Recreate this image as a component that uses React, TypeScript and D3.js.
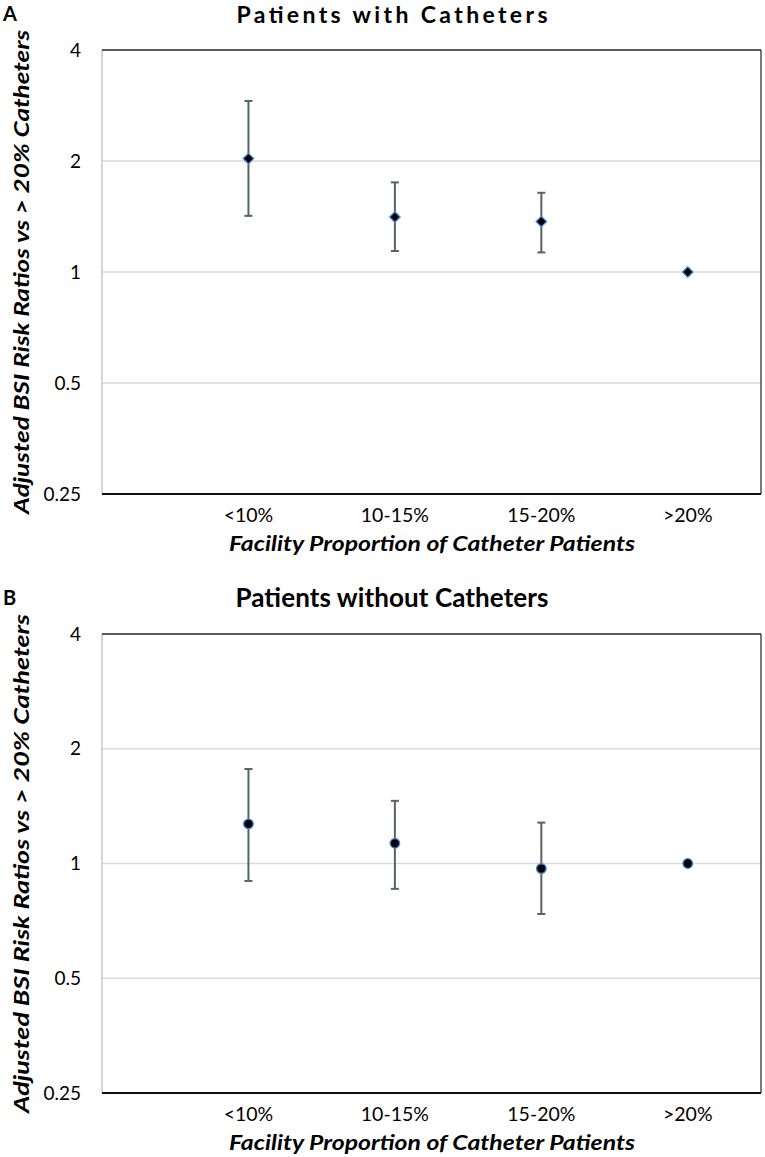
import React from "react";
import * as d3 from "d3";

const categories = ["<10%", "10-15%", "15-20%", ">20%"];
const yTicks = [0.25, 0.5, 1, 2, 4];

const withEst = [2.03, 1.41, 1.37, 1.0];
const withLow = [1.42, 1.14, 1.13, null];
const withHigh = [2.91, 1.75, 1.64, null];

const withoutEst = [1.27, 1.13, 0.97, 1.0];
const withoutLow = [0.9, 0.858, 0.737, null];
const withoutHigh = [1.77, 1.46, 1.28, null];

const FONT = "Lato, 'Open Sans', sans-serif";

type PanelProps = {
  letter: string;
  title: string;
  titleWidth: number;
  titleSize: number;
  top: number;
  bottom: number;
  est: number[];
  low: (number | null)[];
  high: (number | null)[];
  marker: "diamond" | "circle";
};

function Panel({ letter, title, titleWidth, titleSize, top, bottom, est, low, high, marker }: PanelProps) {
  const left = 102;
  const right = 761;
  const x = d3.scaleLinear().domain([0, 4.5]).range([left, right]);
  const y = d3.scaleLog().base(2).domain([0.25, 4]).range([bottom, top]);
  const sym = marker === "diamond" ? d3.symbolDiamond2 : d3.symbolCircle;
  const path = d3.symbol().type(sym).size(marker === "diamond" ? 70 : 72)() as string;
  const midY = (top + bottom) / 2;
  return (
    <g>
      <text x={3} y={top - 29} fontFamily={FONT} fontWeight="bold" fontSize={20} fill="#000">{letter}</text>
      <text x={392} y={top - 27} textAnchor="middle" fontFamily={FONT} fontWeight="bold" fontSize={titleSize} textLength={titleWidth} lengthAdjust="spacing" fill="#000">{title}</text>
      {yTicks.slice(1, -1).map((t) => (
        <line key={t} x1={left} x2={right} y1={y(t)} y2={y(t)} stroke="#d9d9d9" strokeWidth={1.3} />
      ))}
      <line x1={left} x2={left} y1={top} y2={bottom} stroke="#c8c8c8" strokeWidth={1.5} />
      <line x1={left} x2={right} y1={top} y2={top} stroke="#222" strokeWidth={1.6} />
      <line x1={right} x2={right} y1={top} y2={bottom} stroke="#333" strokeWidth={1.3} />
      <line x1={left} x2={right} y1={bottom} y2={bottom} stroke="#111" strokeWidth={1.8} />
      {yTicks.map((t) => (
        <text key={t} x={81} y={y(t) + 6.5} textAnchor="end" fontFamily={FONT} fontSize={19} fill="#000">{String(t)}</text>
      ))}
      {categories.map((c, i) => (
        <text key={c} x={x(i + 1)} y={bottom + 28} textAnchor="middle" fontFamily={FONT} fontSize={19.5} fill="#000">{c}</text>
      ))}
      <text x={432} y={bottom + 57} textAnchor="middle" fontFamily={FONT} fontWeight="bold" fontStyle="italic" fontSize={20} textLength={406} lengthAdjust="spacingAndGlyphs" fill="#000">Facility Proportion of Catheter Patients</text>
      <text transform={`translate(29,${midY}) rotate(-90)`} textAnchor="middle" fontFamily={FONT} fontWeight="bold" fontStyle="italic" fontSize={20} textLength={bottom - top + 40} lengthAdjust="spacingAndGlyphs" fill="#000">Adjusted BSI Risk Ratios vs &gt; 20% Catheters</text>
      {est.map((v, i) => {
        const cx = x(i + 1);
        const lo = low[i];
        const hi = high[i];
        return (
          <g key={i}>
            {lo != null && hi != null && (
              <g stroke="#5a6262" strokeWidth={2}>
                <line x1={cx} x2={cx} y1={y(hi)} y2={y(lo)} />
                <line x1={cx - 4} x2={cx + 4} y1={y(hi)} y2={y(hi)} />
                <line x1={cx - 4} x2={cx + 4} y1={y(lo)} y2={y(lo)} />
              </g>
            )}
            <path d={path} transform={`translate(${cx},${y(v)})`} fill="#000" stroke="#4a86d8" strokeWidth={1.3} />
          </g>
        );
      })}
    </g>
  );
}

export default function App() {
  return (
    <svg width={765} height={1157} style={{ position: "absolute", left: 0, top: 0, background: "#fff" }}>
      <rect width={765} height={1157} fill="#fff" />
      <Panel letter="A" title="Patients with Catheters" titleWidth={311} titleSize={23} top={50} bottom={494} est={withEst} low={withLow} high={withHigh} marker="diamond" />
      <Panel letter="B" title="Patients without Catheters" titleWidth={313} titleSize={26} top={634} bottom={1093} est={withoutEst} low={withoutLow} high={withoutHigh} marker="circle" />
    </svg>
  );
}
